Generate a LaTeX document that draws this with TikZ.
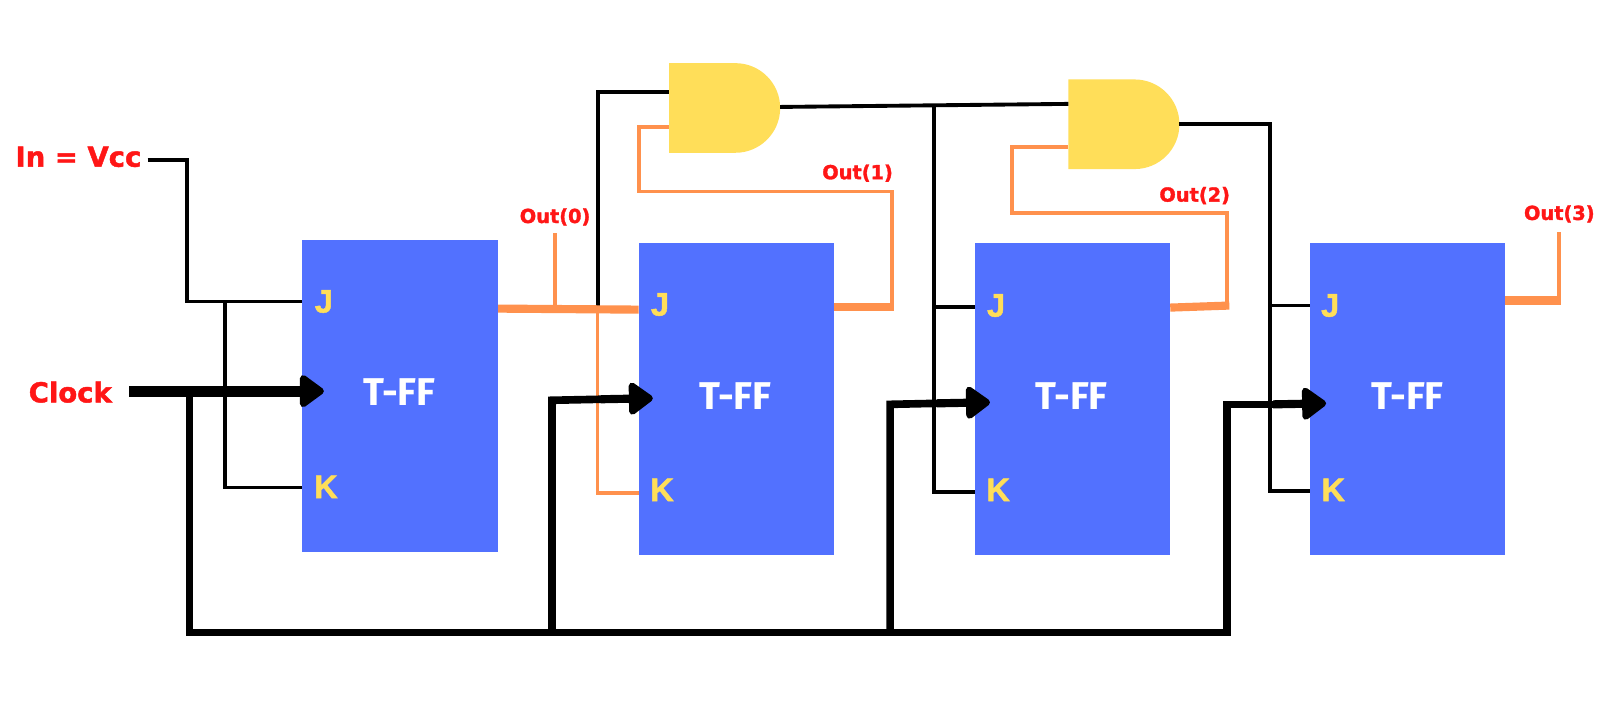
\documentclass[tikz,border=0pt]{standalone}
\usepackage{fontspec}
\setmainfont{DejaVu Sans}
\newfontfamily\fffont{Fira Sans}[BoldFont=* Bold]
\newfontfamily\heavyfont{DejaVu Sans Bold}[FakeBold=1.6]
\newfontfamily\pinfont{Liberation Sans Bold}[FakeBold=1.5]
\usetikzlibrary{arrows.meta}
\definecolor{ffblue}{HTML}{5271FF}
\definecolor{gatey}{HTML}{FFDE59}
\definecolor{wireor}{HTML}{FF914D}
\definecolor{labred}{HTML}{FF1616}
\tikzset{
  x=1pt,y=-1pt,
  ffbox/.style={fill=ffblue,draw=none,inner sep=0pt,minimum width=192pt,minimum height=306pt},
  fflabel/.style={text=white,inner sep=0pt,font=\fffont\bfseries\fontsize{38}{38}\selectfont},
  pin/.style={text=gatey,inner sep=0pt,font=\pinfont\fontsize{32}{32}\selectfont},
  biglab/.style={text=labred,inner sep=0pt,font=\heavyfont\fontsize{27}{27}\selectfont},
  outlab/.style={text=labred,inner sep=0pt,font=\heavyfont\fontsize{19}{19}\selectfont},
  bw/.style={draw=black,line width=3.8pt,line join=miter},
  ow/.style={draw=wireor,line width=3.8pt,line join=miter},
  othick/.style={draw=wireor,line width=8pt},
  clk/.style={draw=black,line width=7.5pt,line join=miter},
  clkhead/.style={draw=black,line width=8pt,-{Triangle[length=26pt,width=36pt,round]}},
  gate/.style={fill=gatey,draw=none}
}
\begin{document}
\begin{tikzpicture}
\useasboundingbox[fill=white] (0,0) rectangle (1568,705);
% flip-flops
\node[ffbox] (ffa) at (393,389) {};
\node[ffbox] (ffb) at (723,392) {};
\node[ffbox] (ffc) at (1053,392) {};
\node[ffbox] (ffd) at (1382,392) {};
% AND gates
\fill[gate] (657,62) -- (722,62) arc[start angle=-90,end angle=90,radius=44] -- (657,150) -- cycle;
\fill[gate] (1049,78) -- (1114,78) arc[start angle=-90,end angle=90,radius=44] -- (1049,166) -- cycle;
\coordinate (g1in1) at (657,90);
\coordinate (g1in2) at (657,125);
\coordinate (g1out) at (766,105);
\coordinate (g2in1) at (1049,102);
\coordinate (g2in2) at (1049,144);
\coordinate (g2out) at (1158,122);
% text labels
\node[biglab] (vcc) at (77,154) {In = Vcc};
\node[biglab] (clock) at (69,385) {Clock};
\node[outlab] (o0) at (545,213) {Out(0)};
\node[outlab] (o1) at (842,170) {Out(1)};
\node[outlab] (o2) at (1173,192) {Out(2)};
\node[outlab] (o3) at (1531,210) {Out(3)};
% coordinates
\coordinate (aJ) at (297,296); \coordinate (aK) at (297,479);
\coordinate (bJ) at (627,304); \coordinate (bK) at (627,484);
\coordinate (cJ) at (957,301); \coordinate (cK) at (957,483);
\coordinate (dJ) at (1286,300); \coordinate (dK) at (1286,482);
% input wiring
\draw[bw] (145,157) -- (184,157) -- (184,296) -- (aJ);
\draw[bw,line width=3.2pt] (221,296) -- (221,479) -- (aK);
% out0
\draw[ow] (545,229) -- (545,303);
\draw[ow,line width=3.2pt] (587,304) -- (587,484) -- (bK);
\draw[bw] (587,303) -- (587,90) -- (g1in1);
\draw[othick] (489,303) -- (bJ);
% out1
\draw[ow] (876,303) -- (876,188) -- (627,188) -- (627,125) -- (g1in2);
\draw[othick] (819,301) -- (878,301);
% and1 out
\draw[bw] (g1out) -- (g2in1);
\draw[bw] (917,104) -- (917,483) -- (cK);
\draw[bw] (917,301) -- (cJ);
% out2
\draw[ow] (1205,302) -- (1205,209) -- (994,209) -- (994,144) -- (g2in2);
\draw[othick] (1149,302) -- (1207,300);
% and2 out
\draw[bw] (g2out) -- (1247,122) -- (1247,482) -- (dK);
\draw[bw] (1247,300) -- (dJ);
% out3
\draw[ow] (1531,298) -- (1531,228);
\draw[othick] (1478,295) -- (1533,295);
% clock
\draw[clk] (186,384) -- (186,621) -- (1205,621) -- (1205,397) -- (1250,397);
\draw[clk] (542,621) -- (542,393) -- (590,392);
\draw[clk] (874,621) -- (874,397) -- (920,396);
\draw[draw=black,line width=11pt] (127,384) -- (295,384);
\draw[clkhead] (285,384) -- (318,384);
\draw[clkhead] (590,392) -- (641,391);
\draw[clkhead] (920,396) -- (972,395);
\draw[clkhead] (1250,397) -- (1302,396);
% T-FF text
\node[fflabel] (ta) at (392,385) {T-FF};
\node[fflabel] (tb) at (722,389) {T-FF};
\node[fflabel] (tc) at (1052,389) {T-FF};
\node[fflabel] (td) at (1382,389) {T-FF};
% pins
\node[pin] (ja) at (318,296) {J}; \node[pin] (ka) at (320,478) {K};
\node[pin] (jb) at (648,299) {J}; \node[pin] (kb) at (650,481) {K};
\node[pin] (jc) at (978,300) {J}; \node[pin] (kc) at (980,481) {K};
\node[pin] (jd) at (1306,300) {J}; \node[pin] (kd) at (1309,481) {K};
\end{tikzpicture}
\end{document}
